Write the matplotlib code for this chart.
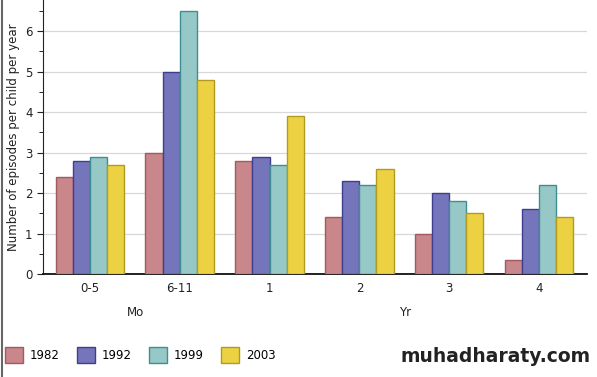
import numpy as np
import matplotlib
matplotlib.use("Agg")
import matplotlib.pyplot as plt
from matplotlib.lines import Line2D
from matplotlib.patches import Patch

# data
groups = ['0-5', '6-11', '1', '2', '3', '4']
years = ['1982', '1992', '1999', '2003']
v1982 = [2.4, 3.0, 2.8, 1.4, 1.0, 0.35]
v1992 = [2.8, 5.0, 2.9, 2.3, 2.0, 1.6]
v1999 = [2.9, 6.5, 2.7, 2.2, 1.8, 2.2]
v2003 = [2.7, 4.8, 3.9, 2.6, 1.5, 1.4]

faces = ['#c9868b', '#7575bb', '#95c8c6', '#ecd242']
edges = ['#a05a60', '#3e3e8e', '#3f8f92', '#b09a20']

fig = plt.figure(figsize=(5.97, 3.77), dpi=100)
ax = fig.add_axes([0.072, 0.273, 0.911, 0.727])

x = np.arange(len(groups))
w = 0.19
series = [v1982, v1992, v1999, v2003]
for i, vals in enumerate(series):
    ax.bar(x + (i - 1.5) * w, vals, width=w, color=faces[i],
           edgecolor=edges[i], linewidth=1.0, zorder=3)

ax.set_xlim(-0.52, 5.53)
ax.set_ylim(0, 6.77)
ax.set_yticks(range(7))
ax.set_yticks(np.arange(0.5, 6.6, 1.0), minor=True)
ax.yaxis.grid(True, color='#d8d8d8', linewidth=0.9, zorder=0)
ax.set_xticks(x)
ax.set_xticklabels(groups)
ax.tick_params(axis='x', length=0, pad=6, labelsize=8.5, colors='#222222')
ax.tick_params(axis='y', which='major', length=4, labelsize=8.5,
               colors='#222222')
ax.tick_params(axis='y', which='minor', length=3)
for s in ['top', 'right']:
    ax.spines[s].set_visible(False)
ax.spines['left'].set_color('#222222')
ax.spines['bottom'].set_color('#111111')
ax.spines['bottom'].set_linewidth(1.3)
ax.set_ylabel('Number of episodes per child per year', fontsize=8.5,
              color='#222222', labelpad=4)

fig.text(136 / 597, 1 - 312 / 377, 'Mo', fontsize=8.5, ha='center',
         va='center', color='#222222')
fig.text(405 / 597, 1 - 312 / 377, 'Yr', fontsize=8.5, ha='center',
         va='center', color='#222222')

handles = [Patch(facecolor=faces[i], edgecolor=edges[i], label=years[i])
           for i in range(4)]
fig.legend(handles=handles, loc='center left', ncol=4, frameon=False,
           bbox_to_anchor=(-0.005, 1 - 355 / 377), fontsize=8.5,
           handlelength=1.5, handleheight=1.8, handletextpad=0.6,
           columnspacing=1.45, borderpad=0.2)

fig.text(0.99, 1 - 356 / 377, 'muhadharaty.com', fontsize=13.5,
         fontweight='bold', ha='right', va='center', color='#222222')

fig.add_artist(Line2D([0.004, 0.004], [0, 1], transform=fig.transFigure,
                      color='#666666', linewidth=1.5))

fig.savefig('out.png', dpi=100)
